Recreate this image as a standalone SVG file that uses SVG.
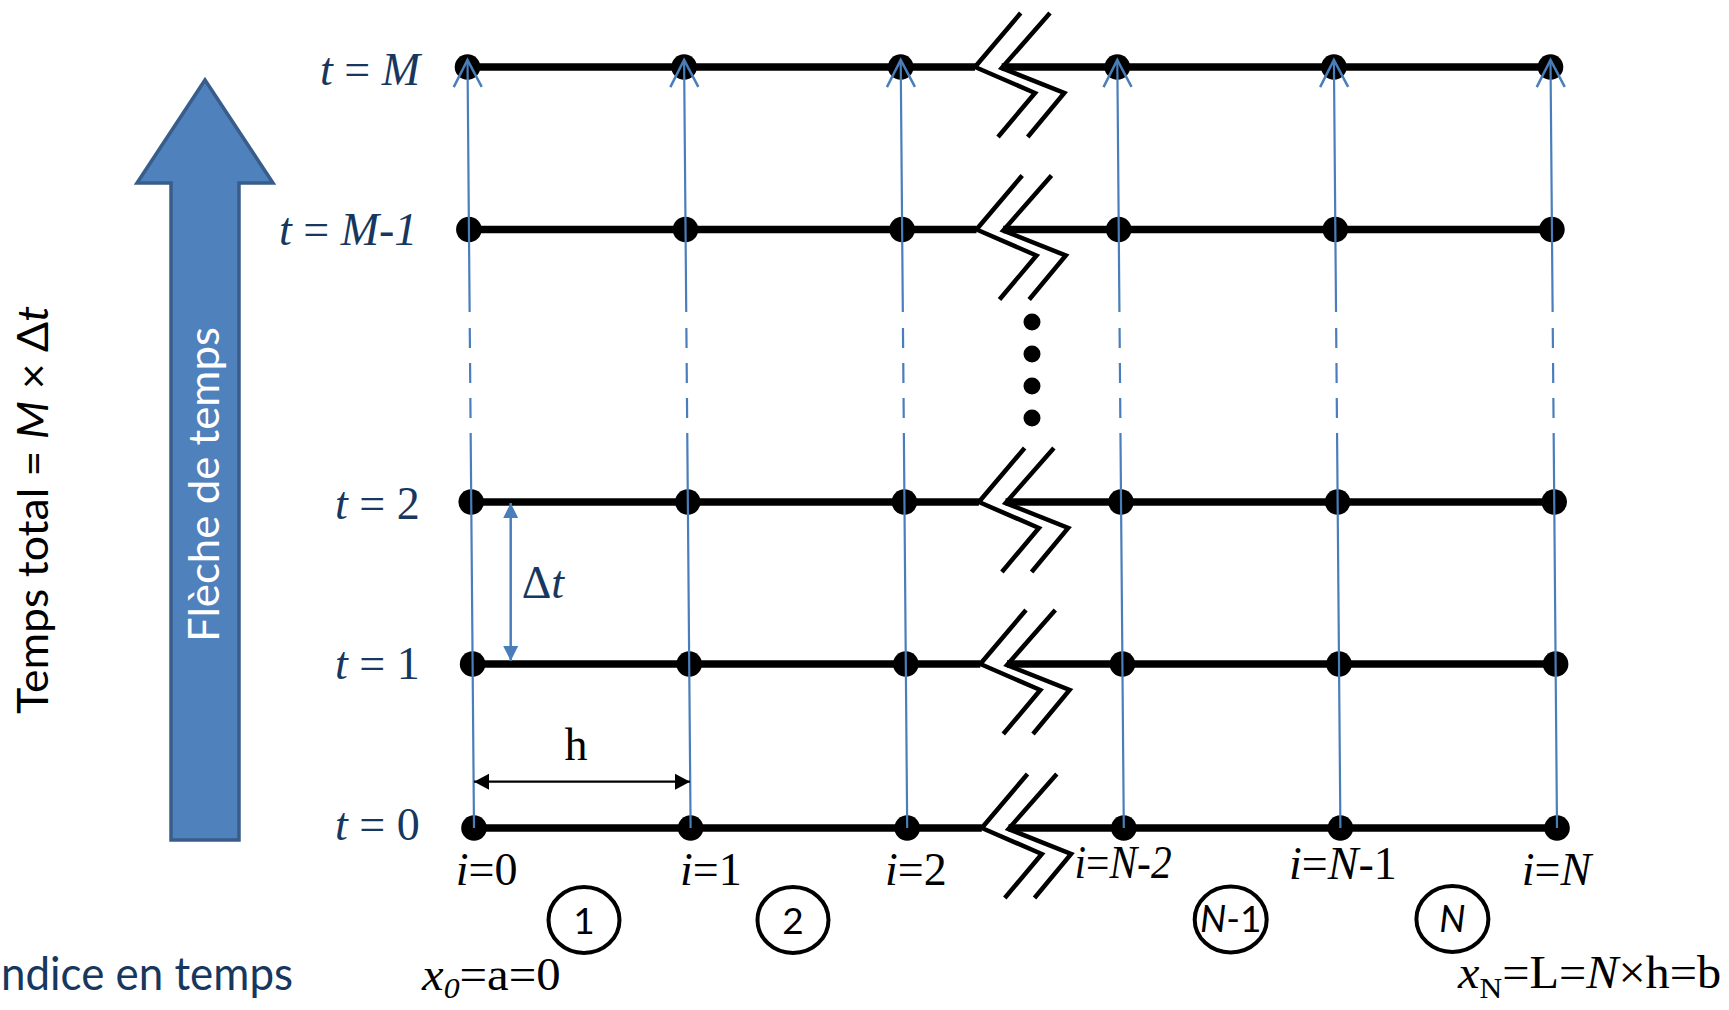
<svg xmlns="http://www.w3.org/2000/svg" xmlns:xlink="http://www.w3.org/1999/xlink" width="1729" height="1010" viewBox="0 0 1729 1010">
<style>
.row{stroke:#000;stroke-width:7.5;fill:none}
.node{fill:#000}
.brk{fill:none;stroke:#000;stroke-width:4.5;stroke-linejoin:miter}
.conn{stroke:#4A7EBB;stroke-width:2.2;fill:none}
.dash{stroke-dasharray:395 15 20 15 20 15 20 16 2000}
.tl{font-family:"Liberation Serif","Times New Roman",serif;font-size:46px;fill:#17375E}
.il{font-family:"Liberation Serif","Times New Roman",serif;font-size:46px;fill:#000}
.it{font-style:italic}
.circ{fill:none;stroke:#000;stroke-width:4}
.cn{font-family:Lato,"Liberation Sans",sans-serif;font-size:37px;fill:#000;text-anchor:middle}
.sans{font-family:Lato,"Liberation Sans",sans-serif}
.dot{fill:#000}
</style>
<defs>
<path id="brk" class="brk" d="M45.7,-54 L0,0 L60,26 L23,70 M75,-54 L26.7,1 L89.3,26 L52.7,70"/>
<marker id="oa" markerUnits="userSpaceOnUse" viewBox="-30 -16 34 32" refX="0" refY="0" markerWidth="34" markerHeight="32" orient="auto" overflow="visible">
<path d="M-27,-14 L0,0 L-27,14" fill="none" stroke="#4A7EBB" stroke-width="2.5"/>
</marker>
<marker id="tb" markerUnits="userSpaceOnUse" viewBox="-16 -8 17 16" refX="0" refY="0" markerWidth="17" markerHeight="16" orient="auto-start-reverse" overflow="visible">
<path d="M-15,-7.5 L0,0 L-15,7.5 Z" fill="#4A7EBB"/>
</marker>
<marker id="tk" markerUnits="userSpaceOnUse" viewBox="-16 -8 17 16" refX="0" refY="0" markerWidth="17" markerHeight="16" orient="auto-start-reverse" overflow="visible">
<path d="M-15,-8 L0,0 L-15,8 Z" fill="#000"/>
</marker>
</defs>
<rect width="1729" height="1010" fill="#fff"/>

<!-- big time arrow -->
<g id="time-arrow">
<polygon points="205,80 273,183 239,183 239,840 171,840 171,183 137,183" fill="#4F81BD" stroke="#385D8A" stroke-width="3.5" stroke-linejoin="miter"/>
<text class="sans" transform="translate(219,484.5) rotate(-90)" text-anchor="middle" font-size="42" fill="#fff" textLength="315" lengthAdjust="spacingAndGlyphs">Flèche de temps</text>
</g>
<text class="sans" transform="translate(48,510) rotate(-90)" text-anchor="middle" font-size="43" fill="#000" textLength="408" lengthAdjust="spacingAndGlyphs">Temps total = <tspan class="it">M</tspan> × Δ<tspan class="it">t</tspan></text>
<text class="sans" x="1" y="990" font-size="46" fill="#17375E" textLength="292" lengthAdjust="spacingAndGlyphs">ndice en temps</text>

<!-- rows -->
<g id="row-tM">
<line class="row" x1="467.5" y1="67" x2="975" y2="67"/>
<line class="row" x1="1001.7" y1="67" x2="1550.5" y2="67"/>
<use xlink:href="#brk" x="975" y="67"/>
<text class="tl" x="320" y="85"><tspan class="it">t</tspan> = <tspan class="it">M</tspan></text>
</g>
<g id="row-tM1">
<line class="row" x1="468.9" y1="229.5" x2="976.5" y2="229.5"/>
<line class="row" x1="1003.2" y1="229.5" x2="1551.9" y2="229.5"/>
<use xlink:href="#brk" x="976.5" y="229.5"/>
<text class="tl" x="279" y="245"><tspan class="it">t</tspan> = <tspan class="it">M-1</tspan></text>
</g>
<g id="row-t2">
<line class="row" x1="471.2" y1="502" x2="978.9" y2="502"/>
<line class="row" x1="1005.6" y1="502" x2="1554.2" y2="502"/>
<use xlink:href="#brk" x="978.9" y="502"/>
<text class="tl" x="335" y="519"><tspan class="it">t</tspan> = 2</text>
</g>
<g id="row-t1">
<line class="row" x1="472.6" y1="664" x2="980.3" y2="664"/>
<line class="row" x1="1007" y1="664" x2="1555.6" y2="664"/>
<use xlink:href="#brk" x="980.3" y="664"/>
<text class="tl" x="335" y="679"><tspan class="it">t</tspan> = 1</text>
</g>
<g id="row-t0">
<line class="row" x1="474" y1="828" x2="981.8" y2="828"/>
<line class="row" x1="1008.5" y1="828" x2="1557" y2="828"/>
<use xlink:href="#brk" x="981.8" y="828"/>
<text class="tl" x="335" y="840"><tspan class="it">t</tspan> = 0</text>
</g>

<!-- ellipsis dots -->
<g id="ellipsis">
<circle class="dot" cx="1032" cy="322" r="8.5"/>
<circle class="dot" cx="1032" cy="354" r="8.5"/>
<circle class="dot" cx="1032" cy="386" r="8.5"/>
<circle class="dot" cx="1032" cy="418" r="8.5"/>
</g>

<!-- nodes -->
<g id="n-M-0"><circle class="node" cx="467.5" cy="67" r="12.8"/></g>
<g id="n-M-1"><circle class="node" cx="684.1" cy="67" r="12.8"/></g>
<g id="n-M-2"><circle class="node" cx="900.7" cy="67" r="12.8"/></g>
<g id="n-M-3"><circle class="node" cx="1117.3" cy="67" r="12.8"/></g>
<g id="n-M-4"><circle class="node" cx="1333.9" cy="67" r="12.8"/></g>
<g id="n-M-5"><circle class="node" cx="1550.5" cy="67" r="12.8"/></g>
<g id="n-M1-0"><circle class="node" cx="468.9" cy="229.5" r="12.8"/></g>
<g id="n-M1-1"><circle class="node" cx="685.5" cy="229.5" r="12.8"/></g>
<g id="n-M1-2"><circle class="node" cx="902.1" cy="229.5" r="12.8"/></g>
<g id="n-M1-3"><circle class="node" cx="1118.7" cy="229.5" r="12.8"/></g>
<g id="n-M1-4"><circle class="node" cx="1335.3" cy="229.5" r="12.8"/></g>
<g id="n-M1-5"><circle class="node" cx="1551.9" cy="229.5" r="12.8"/></g>
<g id="n-2-0"><circle class="node" cx="471.2" cy="502" r="12.8"/></g>
<g id="n-2-1"><circle class="node" cx="687.8" cy="502" r="12.8"/></g>
<g id="n-2-2"><circle class="node" cx="904.4" cy="502" r="12.8"/></g>
<g id="n-2-3"><circle class="node" cx="1121" cy="502" r="12.8"/></g>
<g id="n-2-4"><circle class="node" cx="1337.6" cy="502" r="12.8"/></g>
<g id="n-2-5"><circle class="node" cx="1554.2" cy="502" r="12.8"/></g>
<g id="n-1-0"><circle class="node" cx="472.6" cy="664" r="12.8"/></g>
<g id="n-1-1"><circle class="node" cx="689.2" cy="664" r="12.8"/></g>
<g id="n-1-2"><circle class="node" cx="905.8" cy="664" r="12.8"/></g>
<g id="n-1-3"><circle class="node" cx="1122.4" cy="664" r="12.8"/></g>
<g id="n-1-4"><circle class="node" cx="1339" cy="664" r="12.8"/></g>
<g id="n-1-5"><circle class="node" cx="1555.6" cy="664" r="12.8"/></g>
<g id="n-0-0"><circle class="node" cx="474" cy="828" r="12.8"/></g>
<g id="n-0-1"><circle class="node" cx="690.6" cy="828" r="12.8"/></g>
<g id="n-0-2"><circle class="node" cx="907.2" cy="828" r="12.8"/></g>
<g id="n-0-3"><circle class="node" cx="1123.8" cy="828" r="12.8"/></g>
<g id="n-0-4"><circle class="node" cx="1340.4" cy="828" r="12.8"/></g>
<g id="n-0-5"><circle class="node" cx="1557" cy="828" r="12.8"/></g>

<!-- connectors -->
<g id="connectors">
<line class="conn dash" x1="474" y1="828" x2="467.5" y2="60" marker-end="url(#oa)"/>
<line class="conn dash" x1="690.6" y1="828" x2="684.1" y2="60" marker-end="url(#oa)"/>
<line class="conn dash" x1="907.2" y1="828" x2="900.7" y2="60" marker-end="url(#oa)"/>
<line class="conn dash" x1="1123.8" y1="828" x2="1117.3" y2="60" marker-end="url(#oa)"/>
<line class="conn dash" x1="1340.4" y1="828" x2="1333.9" y2="60" marker-end="url(#oa)"/>
<line class="conn dash" x1="1557" y1="828" x2="1550.5" y2="60" marker-end="url(#oa)"/>
<line x1="510.7" y1="503" x2="510.7" y2="661" stroke="#4A7EBB" stroke-width="2.5" marker-start="url(#tb)" marker-end="url(#tb)"/>
<line x1="474" y1="781.7" x2="690" y2="781.7" stroke="#000" stroke-width="2.2" marker-start="url(#tk)" marker-end="url(#tk)"/>
</g>

<!-- dimension labels -->
<text class="tl" x="521.7" y="598">Δ<tspan class="it">t</tspan></text>
<text class="il" x="576" y="760" text-anchor="middle">h</text>

<!-- i labels -->
<text class="il" x="455.7" y="885"><tspan class="it">i</tspan>=0</text>
<text class="il" x="680" y="885"><tspan class="it">i</tspan>=1</text>
<text class="il" x="885" y="885"><tspan class="it">i</tspan>=2</text>
<text class="il" x="1074.6" y="878" font-size="40" textLength="97" lengthAdjust="spacingAndGlyphs"><tspan class="it">i</tspan>=<tspan class="it">N-2</tspan></text>
<text class="il" x="1289" y="879" font-size="39.5"><tspan class="it">i</tspan>=<tspan class="it">N</tspan>-1</text>
<text class="il" x="1521.7" y="885"><tspan class="it">i</tspan>=<tspan class="it">N</tspan></text>

<!-- element circles -->
<g id="el-1"><ellipse class="circ" cx="584" cy="920" rx="35.5" ry="33"/><text class="cn" x="584" y="934">1</text></g>
<g id="el-2"><ellipse class="circ" cx="793" cy="920" rx="35.5" ry="33"/><text class="cn" x="793" y="934">2</text></g>
<g id="el-N1"><ellipse class="circ" cx="1230.7" cy="919.5" rx="36" ry="33"/><text class="cn" x="1230.7" y="932"><tspan class="it">N</tspan>-1</text></g>
<g id="el-N"><ellipse class="circ" cx="1452.4" cy="919" rx="36" ry="33"/><text class="cn" x="1452.4" y="932"><tspan class="it">N</tspan></text></g>

<!-- bounds -->
<text class="il" transform="translate(422,990) scale(1.06,1)" font-size="42"><tspan class="it">x</tspan><tspan class="it" font-size="30" dy="8">0</tspan><tspan dy="-8">=a=0</tspan></text>
<text class="il" transform="translate(1458,988) scale(1.05,1)" font-size="44"><tspan class="it">x</tspan><tspan font-size="30" dy="10">N</tspan><tspan dy="-10">=L=</tspan><tspan class="it">N</tspan>×h=b</text>
</svg>
